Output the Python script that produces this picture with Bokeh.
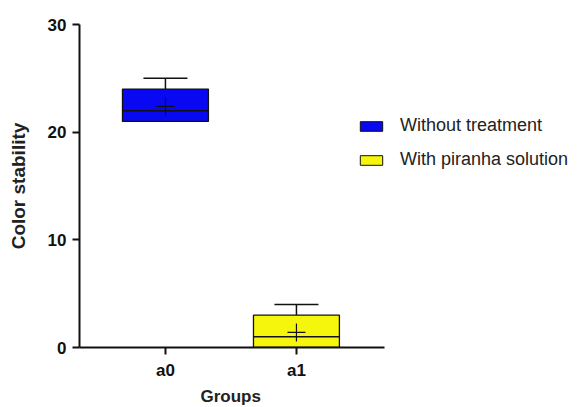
from bokeh.plotting import figure
from bokeh.models import ColumnDataSource, FixedTicker, Legend, LegendItem, Range1d, Title
from bokeh.transform import dodge
from bokeh.embed import file_html
from bokeh.resources import INLINE

groups = ["a0", "a1"]
series = ["Without treatment", "With piranha solution"]
colors = ["#0808f2", "#f6f60c"]
q1 = [21, 0]
median = [22, 1]
q3 = [24, 3]
upper = [25, 4]
lower = [21, 0]
mean = [22.4, 1.4]
y_ticks = [0, 10, 20, 30]

xs = [i + 1 for i in range(len(groups))]
x_left, x_axis_end = 0.344, 2.672

p = figure(width=586, height=407, output_backend="svg", toolbar_location=None,
           x_range=Range1d(x_left, 4.214), y_range=Range1d(0, 30),
           min_border_left=79, min_border_top=24, min_border_bottom=60, min_border_right=0)
p.xgrid.visible = False
p.ygrid.visible = False
p.outline_line_color = None

src = ColumnDataSource(dict(x=xs, q1=q1, med=median, q3=q3, up=upper, lo=lower,
                            mean=mean, color=colors, label=series))
bw = 0.656
cw = 0.336
p.segment(x0="x", y0="q3", x1="x", y1="up", source=src, line_color="#111111", line_width=1.5)
p.segment(x0="x", y0="q1", x1="x", y1="lo", source=src, line_color="#111111", line_width=1.5)
p.segment(x0=dodge("x", -cw / 2), y0="up", x1=dodge("x", cw / 2), y1="up", source=src,
          line_color="#111111", line_width=1.5)
p.vbar(x="x", bottom="q1", top="q3", width=bw, source=src, fill_color="color",
       line_color="#111111", line_width=1.3)
p.segment(x0=dodge("x", -bw / 2), y0="med", x1=dodge("x", bw / 2), y1="med", source=src,
          line_color="#111111", line_width=1.5)
p.scatter(x="x", y="mean", source=src, marker="cross", size=18, line_color="#111111",
          line_width=1.2, fill_color=None)

# legend proxies
r0 = p.vbar(x=[xs[0]], top=[0], bottom=[0], width=0, fill_color=colors[0], line_color="#111111")
r1 = p.vbar(x=[xs[1]], top=[0], bottom=[0], width=0, fill_color=colors[1], line_color="#111111")
legend = Legend(items=[LegendItem(label=series[0], renderers=[r0]),
                       LegendItem(label=series[1], renderers=[r1])],
                location=(278, 177), background_fill_alpha=0, border_line_color=None,
                padding=0, margin=0,
                label_text_font="Liberation Sans", label_text_font_size="18px",
                glyph_width=28, glyph_height=12, label_height=20, spacing=13,
                label_standoff=15, label_text_color="#222222")
p.add_layout(legend, "center")

font = "Liberation Sans"
for ax in (p.xaxis[0], p.yaxis[0]):
    ax.axis_line_width = 2
    ax.axis_line_color = "#111111"
    ax.major_tick_line_width = 2
    ax.major_tick_line_color = "#111111"
    ax.minor_tick_line_color = None
    ax.major_tick_out = 7
    ax.major_tick_in = 0
    ax.major_label_text_font = font
    ax.major_label_text_font_style = "bold"
    ax.major_label_text_font_size = "17px"
    ax.major_label_text_color = "#111111"
    ax.axis_label_text_font = font
    ax.axis_label_text_font_style = "bold"
    ax.axis_label_text_color = "#222222"

p.xaxis.bounds = (x_left, x_axis_end)
p.xaxis.ticker = FixedTicker(ticks=xs)
p.xaxis.major_label_overrides = {x: g for x, g in zip(xs, groups)}
p.xaxis.major_label_standoff = 6
p.yaxis.ticker = FixedTicker(ticks=y_ticks)
p.yaxis.axis_label = "Color stability"
p.yaxis.axis_label_text_font_size = "19px"
p.yaxis.major_label_standoff = 6
p.yaxis.axis_label_standoff = 16

xlabel = Title(text="Groups", align="left", offset=121, standoff=4,
               text_font=font, text_font_style="bold", text_font_size="17px",
               text_color="#222222")
p.add_layout(xlabel, "below")

open("out.html", "w").write(file_html(p, INLINE))
